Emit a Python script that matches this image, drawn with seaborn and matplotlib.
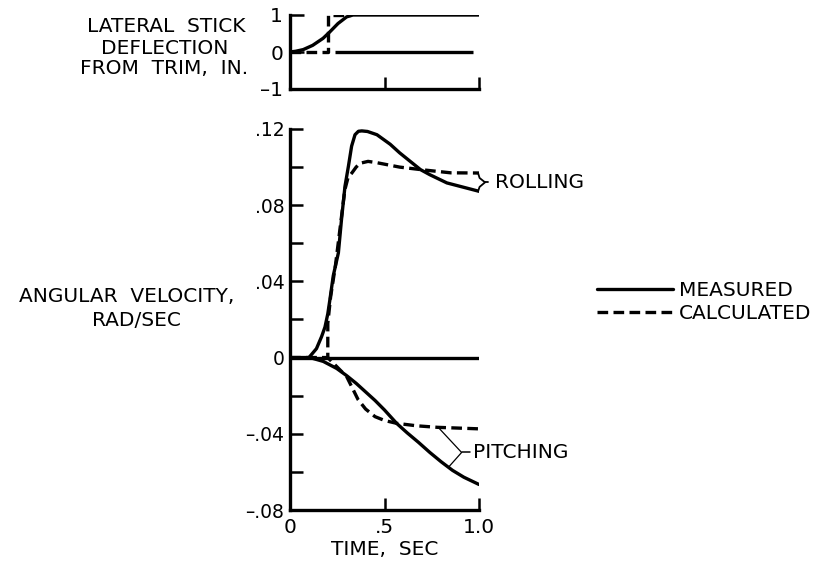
import numpy as np
import pandas as pd
import seaborn as sns
import matplotlib
matplotlib.use("Agg")
import matplotlib.pyplot as plt
from matplotlib.lines import Line2D
from matplotlib.ticker import FixedLocator, FixedFormatter

sns.set_style("white")
plt.rcParams["font.family"] = ["DejaVu Sans"]
plt.rcParams.update({"text.color": "black", "axes.labelcolor": "black",
                     "xtick.color": "black", "ytick.color": "black"})

# ---- lateral stick deflection from trim, in. ----
stick_t_meas = [0, 0.03, 0.07, 0.12, 0.175, 0.21, 0.254, 0.30, 0.333, 1.0]
stick_meas = [0, 0.02, 0.065, 0.18, 0.37, 0.54, 0.77, 0.95, 1.0, 1.0]
stick_t_calc = [0, 0.2, 0.2, 0.32]
stick_calc = [0, 0, 1, 1]

# ---- angular velocity, rad/sec ----
roll_t_meas = [0, 0.1, 0.14, 0.167, 0.185, 0.2, 0.212, 0.229, 0.256, 0.273, 0.291,
               0.309, 0.326, 0.344, 0.362, 0.38, 0.41, 0.46, 0.53, 0.58, 0.69,
               0.74, 0.83, 1.0]
roll_meas = [0, 0, 0.0047, 0.011, 0.016, 0.023, 0.031, 0.043, 0.055, 0.073, 0.090,
             0.1004, 0.111, 0.117, 0.1188, 0.119, 0.1187, 0.117, 0.112, 0.1075, 0.0987,
             0.096, 0.0917, 0.0873]
roll_t_calc = [0, 0.2, 0.2, 0.215, 0.24, 0.265, 0.29, 0.307, 0.328, 0.35, 0.37,
               0.413, 0.46, 0.58, 0.69, 0.85, 1.0]
roll_calc = [0, 0, 0.018, 0.032, 0.048, 0.068, 0.088, 0.0945, 0.097, 0.100, 0.102,
             0.103, 0.1023, 0.100, 0.0987, 0.097, 0.0969]

pitch_t_meas = [0, 0.106, 0.176, 0.247, 0.30, 0.35, 0.40, 0.45, 0.50, 0.564, 0.62,
                0.68, 0.74, 0.80, 0.86, 0.92, 1.0]
pitch_meas = [0, 0, -0.002, -0.0057, -0.0095, -0.0135, -0.018, -0.0225, -0.0275,
              -0.0345, -0.0395, -0.0445, -0.0498, -0.0547, -0.0592, -0.0628, -0.0666]
pitch_t_calc = [0, 0.2, 0.25, 0.30, 0.33, 0.36, 0.40, 0.45, 0.50, 0.564, 0.67, 0.78, 1.0]
pitch_calc = [0, 0, -0.005, -0.010, -0.016, -0.022, -0.027, -0.031, -0.033, -0.0345,
              -0.0358, -0.0366, -0.0374]

x_ticks = [0, 0.5, 1.0]
x_tick_labels = ["0", ".5", "1.0"]
y_ticks = [-0.08, -0.04, 0, 0.04, 0.08, 0.12]
y_tick_labels = ["\u2013.08", "\u2013.04", "0", ".04", ".08", ".12"]
y_minor = [-0.06, -0.02, 0.02, 0.06, 0.10]
stick_ticks = [-1, 0, 1]
stick_tick_labels = ["\u20131", "0", "1"]

W, H = 827, 565
FS = 14.5
LW = 2.4
DASH = (0, (3.2, 1.6))

fig = plt.figure(figsize=(W / 100, H / 100), dpi=100)


def px_rect(left, top, right, bottom):
    return [left / W, 1 - bottom / H, (right - left) / W, (bottom - top) / H]


def draw(ax, t, v, dashed=False):
    sns.lineplot(x=t, y=v, ax=ax, color="black", linewidth=LW,
                 linestyle=DASH if dashed else "-", estimator=None, sort=False)


def style_axes(ax):
    for side in ["top", "right"]:
        ax.spines[side].set_visible(False)
    for side in ["left", "bottom"]:
        ax.spines[side].set_linewidth(2.4)
        ax.spines[side].set_color("black")


# ---------------- stick panel ----------------
ax_s = fig.add_axes(px_rect(290, 15, 479, 89))
draw(ax_s, stick_t_meas, stick_meas)
draw(ax_s, stick_t_calc, stick_calc, dashed=True)
ax_s.hlines(0, 0.24, 0.97, color="black", linewidth=LW)
ax_s.set_xlim(0, 1.0)
ax_s.set_ylim(-1, 1)
style_axes(ax_s)
ax_s.set_yticks(stick_ticks)
ax_s.set_yticklabels(stick_tick_labels)
ax_s.set_xticks([0.5, 1.0])
ax_s.set_xticklabels([])
ax_s.tick_params(axis="y", direction="in", length=10, width=1.8, pad=5,
                 labelsize=FS, left=True)
ax_s.tick_params(axis="x", direction="in", length=9, width=1.8, bottom=True)
ax_s.set_xlabel("")
ax_s.set_ylabel("")

for txt, cx, cy in [("LATERAL  STICK", 166, 27), ("DEFLECTION", 165, 48),
                    ("FROM  TRIM,  IN.", 164, 69)]:
    fig.text(cx / W, 1 - cy / H, txt, ha="center", va="center", fontsize=FS)

# ---------------- angular velocity panel ----------------
ax = fig.add_axes(px_rect(290, 129, 479, 510))
ax.hlines(0, 0, 1.0, color="black", linewidth=LW)
draw(ax, roll_t_meas, roll_meas)
draw(ax, roll_t_calc, roll_calc, dashed=True)
draw(ax, pitch_t_meas, pitch_meas)
draw(ax, pitch_t_calc, pitch_calc, dashed=True)
ax.set_xlim(0, 1.0)
ax.set_ylim(-0.08, 0.12)
style_axes(ax)
ax.yaxis.set_major_locator(FixedLocator(y_ticks))
ax.yaxis.set_major_formatter(FixedFormatter(y_tick_labels))
ax.yaxis.set_minor_locator(FixedLocator(y_minor))
ax.set_xticks(x_ticks)
ax.set_xticklabels(x_tick_labels)
ax.tick_params(axis="y", which="both", direction="in", length=9, width=1.8,
               pad=4, labelsize=13.5, left=True)
ax.tick_params(axis="x", direction="in", length=9, width=1.8, pad=6,
               labelsize=FS, bottom=True)
ax.set_ylabel("")
ax.set_xlabel("TIME,  SEC", fontsize=FS, labelpad=2)

fig.text(127 / W, 1 - 296 / H, "ANGULAR  VELOCITY,", ha="center", va="center",
         fontsize=FS)
fig.text(136 / W, 1 - 320 / H, "RAD/SEC", ha="center", va="center", fontsize=FS)

# brace labels
ax.plot([0.995, 1.003, 1.032, 1.003, 0.995],
        [0.0969, 0.0943, 0.092, 0.0896, 0.0873],
        color="black", linewidth=1.3, clip_on=False)
ax.plot([1.032, 1.046], [0.092, 0.092], color="black", linewidth=1.3, clip_on=False)
ax.text(1.085, 0.092, "ROLLING", fontsize=FS, va="center", ha="left")

ax.plot([0.785, 0.908, 0.838], [-0.0367, -0.0498, -0.0576],
        color="black", linewidth=0.9, clip_on=False)
ax.plot([0.908, 0.952], [-0.0498, -0.0498], color="black", linewidth=1.1,
        clip_on=False)
ax.text(0.970, -0.0498, "PITCHING", fontsize=FS, va="center", ha="left")

handles = [Line2D([], [], color="black", linewidth=LW),
           Line2D([], [], color="black", linewidth=LW, linestyle=DASH)]
fig.legend(handles, ["MEASURED", "CALCULATED"], loc="center left",
           bbox_to_anchor=(597 / W, 1 - 302 / H), frameon=False, fontsize=FS,
           handlelength=3.75, handletextpad=0.3, labelspacing=0.2,
           borderpad=0, borderaxespad=0)

fig.savefig("out.png", dpi=100, facecolor="white")
